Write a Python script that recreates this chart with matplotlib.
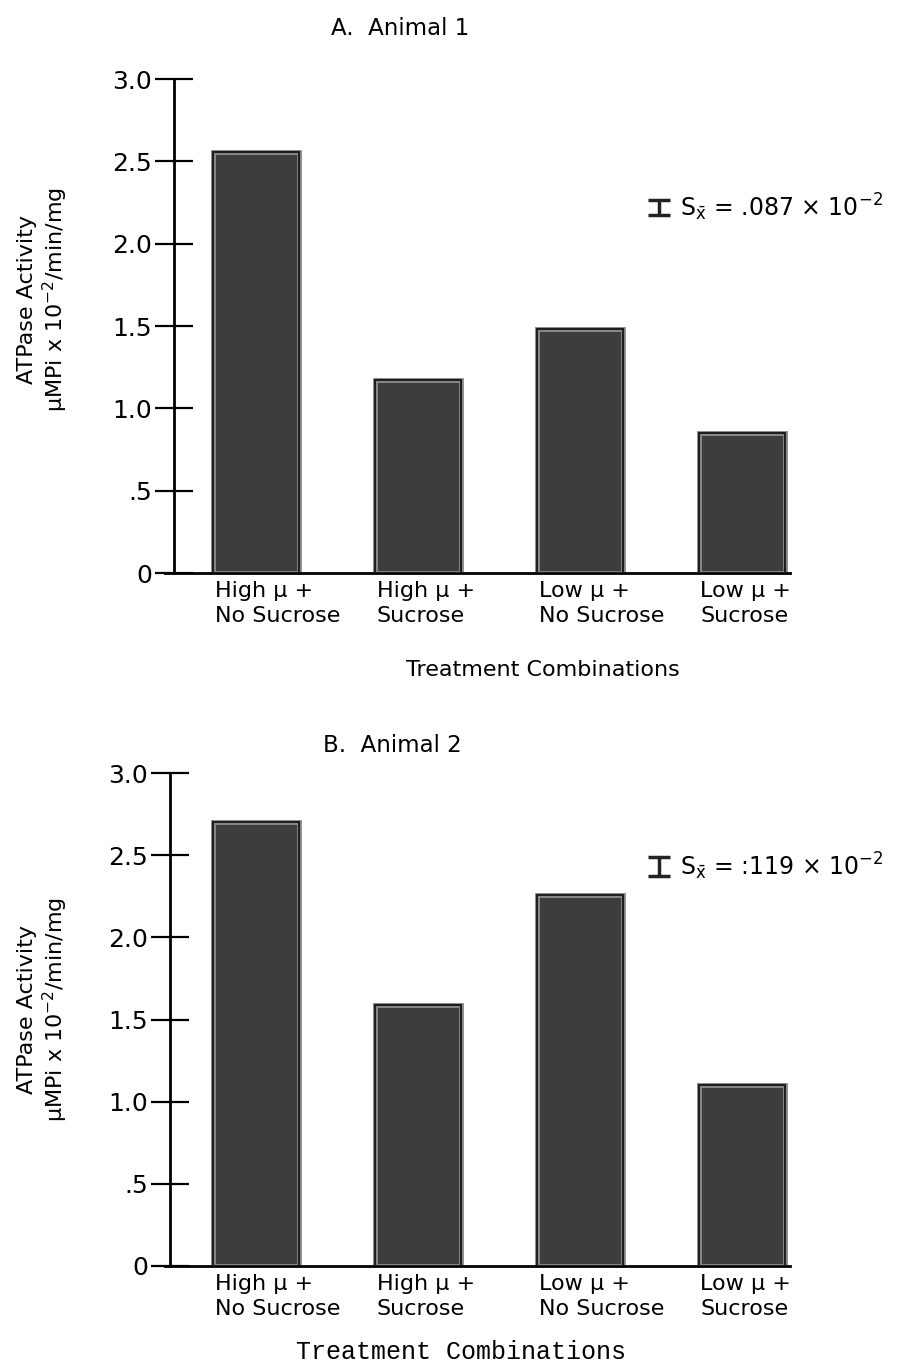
import matplotlib.pyplot as plt
import numpy as np

plt.rcParams["font.family"] = ["DejaVu Sans"]
plt.rcParams["mathtext.fontset"] = "dejavusans"

treatments = [
    "High \u03bc +\nNo Sucrose",
    "High \u03bc +\nSucrose",
    "Low \u03bc +\nNo Sucrose",
    "Low \u03bc +\nSucrose",
]
animal1 = [2.56, 1.17, 1.48, 0.85]
animal2 = [2.70, 1.59, 2.26, 1.10]
se_animal1 = 0.087
se_animal2 = 0.119
yticks = [0, 0.5, 1.0, 1.5, 2.0, 2.5, 3.0]
yticklabels = ["0", ".5", "1.0", "1.5", "2.0", "2.5", "3.0"]

panels = [
    dict(title="A.  Animal 1", vals=animal1, se=se_animal1, se_txt=".087",
         rect=[0.1825, 0.581, 0.691, 0.3612], spine=-0.506, se_y=2.22,
         title_x=0.443, title_y=0.979, ylab_y=0.781,
         xlab_x=0.6, xlab_y=0.51, xlab_font=["DejaVu Sans"], xlab_size=16),
    dict(title="B.  Animal 2", vals=animal2, se=se_animal2, se_txt=":119",
         rect=[0.1825, 0.0746, 0.691, 0.3603], spine=-0.53, se_y=2.43,
         title_x=0.434, title_y=0.455, ylab_y=0.262,
         xlab_x=0.51, xlab_y=0.012,
         xlab_font=["Liberation Mono", "DejaVu Sans Mono"], xlab_size=18),
]

fig = plt.figure(figsize=(9.04, 13.68), dpi=100)
x = np.arange(len(treatments))
width = 0.53

for p in panels:
    ax = fig.add_axes(p["rect"])
    ax.bar(x, p["vals"], width, color="#3d3d3d", edgecolor="#8c8c8c",
           linewidth=3.5, zorder=2)
    ax.bar(x, p["vals"], width, fill=False, edgecolor="#1e1e1e",
           linewidth=1.5, zorder=3)
    ax.set_xlim(-0.562, 3.296)
    ax.set_ylim(0, 3.0)
    ax.spines[["top", "right"]].set_visible(False)
    ax.spines["left"].set_position(("data", p["spine"]))
    ax.spines["left"].set_linewidth(2)
    ax.spines["bottom"].set_linewidth(2)
    ax.set_yticks(yticks)
    ax.set_yticklabels(yticklabels, fontsize=18)
    ax.tick_params(axis="y", direction="inout", length=28, width=1.6, pad=2)
    ax.set_xticks([])
    for xi, lab in zip(x, treatments):
        ax.text(xi - width / 2 + 0.01, -0.05, lab, ha="left", va="top",
                fontsize=16, linespacing=1.3)

    # standard error marker with its value
    ax.errorbar(2.49, p["se_y"], yerr=p["se"] / 2, color="#222",
                capsize=8, capthick=2.5, elinewidth=2.5)
    ax.text(2.62, p["se_y"],
            r"S$_{\bar{\mathrm{x}}}$ = " + p["se_txt"] + r" $\times$ 10$^{-2}$",
            ha="left", va="center", fontsize=17)

    fig.text(p["title_x"], p["title_y"], p["title"], ha="center",
             va="center", fontsize=16.5)
    fig.text(0.048, p["ylab_y"],
             "ATPase Activity\n\u03bcMPi x 10$^{-2}$/min/mg",
             rotation=90, ha="center", va="center", fontsize=16,
             linespacing=1.15)
    fig.text(p["xlab_x"], p["xlab_y"], "Treatment Combinations",
             ha="center", va="center", fontsize=p["xlab_size"],
             family=p["xlab_font"])

fig.savefig("out.png", dpi=100)
